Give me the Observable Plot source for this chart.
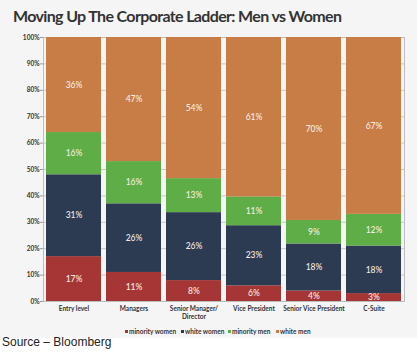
<!DOCTYPE html>
<html><head><meta charset="utf-8">
<script src="https://cdn.jsdelivr.net/npm/d3@7"></script>
<script src="https://cdn.jsdelivr.net/npm/@observablehq/plot@0.6"></script>
<style>
body{margin:0;background:#fff;}
#wrap{position:relative;width:417px;height:356px;overflow:hidden;font-family:Lato,sans-serif;}
#bg{position:absolute;left:0;top:0;width:417px;height:338px;background:#f5f5f5;}
#title{position:absolute;left:13px;top:6px;font-family:Lato;font-weight:bold;font-size:16px;letter-spacing:-0.65px;color:#333;white-space:nowrap;}
#chart{position:absolute;left:0;top:30px;}
.lg{position:absolute;top:328px;font-family:Lato;font-weight:bold;font-size:6.5px;color:#333;white-space:nowrap;line-height:8px;}
.lg i{display:inline-block;width:3px;height:3px;margin-right:1px;vertical-align:1.5px;}
#source{position:absolute;left:2px;top:335px;font-family:"Liberation Sans",Arial,sans-serif;font-size:12px;color:#222;white-space:nowrap;}
</style>
</head><body>
<div id="wrap">
  <div id="bg"></div>
  <div id="title">Moving Up The Corporate Ladder: Men vs Women</div>
  <div id="chart"></div>
  <div id="legend"></div>
  <div id="source">Source – Bloomberg</div>
</div>
<script>
const categories = ["Entry level","Managers","Senior Manager/\nDirector","Vice President","Senior Vice President","C-Suite"];
const series = ["minority women","white women","minority men","white men"];
const minorityWomen = [17,11,8,6,4,3];
const whiteWomen = [31,26,26,23,18,18];
const minorityMen = [16,16,13,11,9,12];
const whiteMen = [36,47,54,61,70,67];
const colors = ["#a63636","#2c3a52","#5fad46","#c87d46"];
const yTicks = [0,0.1,0.2,0.3,0.4,0.5,0.6,0.7,0.8,0.9,1];
const legendX = [125,181,228,276];

const valuesBySeries = [minorityWomen, whiteWomen, minorityMen, whiteMen];
const rows = [];
series.forEach((s, si) => {
  categories.forEach((c, ci) => rows.push({category: c, series: s, value: valuesBySeries[si][ci]}));
});

const stackOpts = {x: "category", y: "value", z: "series", offset: "normalize"};

const plot = Plot.plot({
  width: 417,
  height: 293,
  marginTop: 7,
  marginBottom: 22,
  marginLeft: 43,
  marginRight: 13,
  style: {background: "transparent", fontFamily: "Lato"},
  x: {domain: categories, paddingInner: 0.09, paddingOuter: 0.04, label: null},
  y: {domain: [0, 1], label: null},
  color: {domain: series, range: colors},
  marks: [
    Plot.gridY(yTicks, {stroke: "#c8c8c8", strokeOpacity: 1}),
    Plot.frame({stroke: "#bdbdbd"}),
    Plot.barY(rows, Plot.stackY({...stackOpts, fill: "series"})),
    Plot.text(rows, Plot.stackY({...stackOpts, text: d => d.value + "%", fill: "#f4ece2", fontSize: 8.5, fontWeight: 500})),
    Plot.axisY(yTicks, {tickFormat: d => Math.round(d * 100) + "%", tickSize: 3, tickPadding: 1, fontSize: 6.5, fontWeight: "bold", fill: "#333", stroke: "#999", label: null}),
    Plot.axisX({tickSize: 0, tickPadding: 4, fontSize: 6.5, fontWeight: "bold", fill: "#333", lineHeight: 1.25, label: null})
  ]
});
document.getElementById("chart").appendChild(plot);

const lg = document.getElementById("legend");
series.forEach((s, i) => {
  const d = document.createElement("div");
  d.className = "lg";
  d.style.left = legendX[i] + "px";
  d.innerHTML = `<i style="background:${colors[i]}"></i>${s}`;
  lg.appendChild(d);
});
</script>
</body></html>
